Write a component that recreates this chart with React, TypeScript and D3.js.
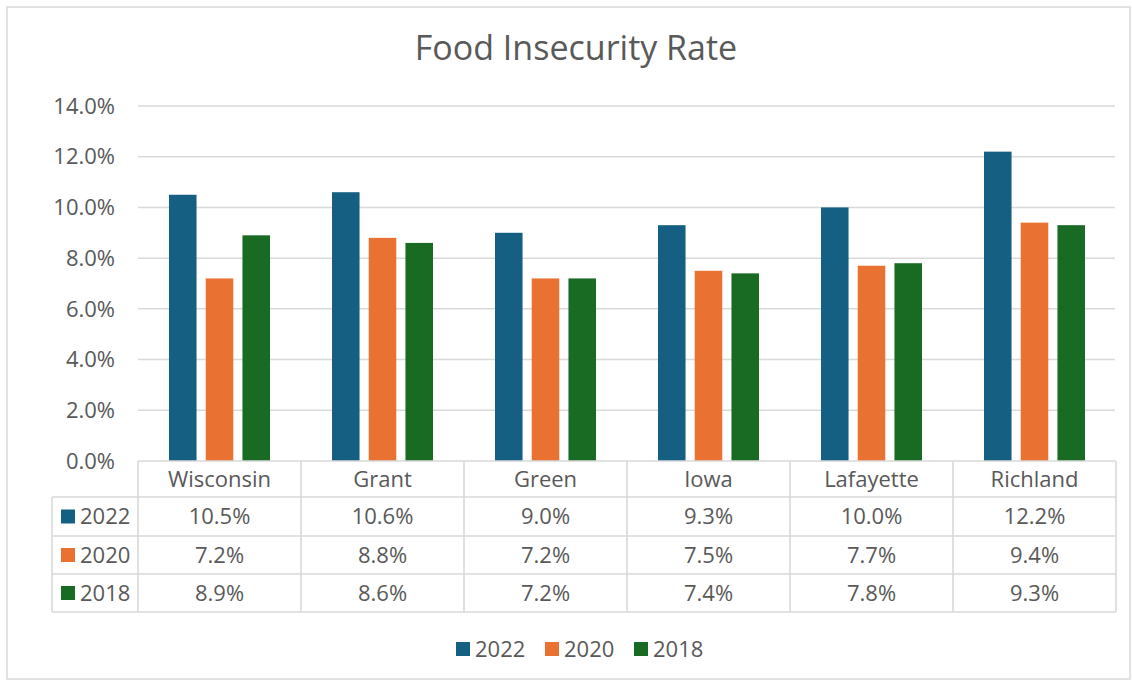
import React from "react";
import * as d3 from "d3";

const categories = ["Wisconsin", "Grant", "Green", "Iowa", "Lafayette", "Richland"];
const seriesNames = ["2022", "2020", "2018"];
const values2022 = [10.5, 10.6, 9.0, 9.3, 10.0, 12.2];
const values2020 = [7.2, 8.8, 7.2, 7.5, 7.7, 9.4];
const values2018 = [8.9, 8.6, 7.2, 7.4, 7.8, 9.3];
const yTicks = [0, 2, 4, 6, 8, 10, 12, 14];
const colors = ["#156082", "#E97132", "#196B24"];

const seriesValues = [values2022, values2020, values2018];

const W = 1132;
const H = 681;
const FONT = "'Open Sans', sans-serif";
const TEXT = "#595959";
const GRID = "#D9D9D9";
const FS = 22;

export default function App() {
  const plotLeft = 138;
  const plotRight = 1116;
  const y = d3.scaleLinear().domain([0, 14]).range([461, 106]);
  const x0 = d3.scaleBand<string>().domain(categories).range([plotLeft, plotRight]).padding(0);
  const cw = x0.bandwidth();
  const x1 = d3
    .scaleBand<string>()
    .domain(seriesNames)
    .range([31, cw - 31])
    .paddingInner(0.25)
    .paddingOuter(0);

  const rowEdges = [461, 497, 536, 574, 612];
  const labelLeft = 52;

  return (
    <svg
      width={W}
      height={H}
      style={{ position: "absolute", left: 0, top: 0, background: "#fff" }}
      fontFamily={FONT}
    >
      <rect x={7} y={7} width={1123} height={672} fill="#fff" stroke={GRID} strokeWidth={1.5} />
      <text x={576} y={60} textAnchor="middle" fontSize={34} fill={TEXT}>
        Food Insecurity Rate
      </text>

      {yTicks.map((t) => (
        <g key={t}>
          {t > 0 && (
            <line x1={plotLeft} x2={plotRight - 1} y1={y(t)} y2={y(t)} stroke={GRID} strokeWidth={1.5} />
          )}
          <text x={115} y={y(t)} dy="0.35em" textAnchor="end" fontSize={FS} fill={TEXT}>
            {d3.format(".1f")(t) + "%"}
          </text>
        </g>
      ))}

      {categories.map((c, i) => (
        <g key={c} transform={`translate(${x0(c)},0)`}>
          {seriesNames.map((s, j) => (
            <rect
              key={s}
              x={x1(s)}
              y={y(seriesValues[j][i])}
              width={x1.bandwidth()}
              height={y(0) - y(seriesValues[j][i])}
              fill={colors[j]}
            />
          ))}
        </g>
      ))}

      {/* data table */}
      <g stroke={GRID} strokeWidth={1.6}>
        <line x1={plotLeft} x2={plotRight} y1={rowEdges[0]} y2={rowEdges[0]} />
        {rowEdges.slice(1).map((r) => (
          <line key={r} x1={labelLeft} x2={plotRight} y1={r} y2={r} />
        ))}
        <line x1={labelLeft} x2={labelLeft} y1={rowEdges[1]} y2={rowEdges[4]} />
        {categories.map((c) => (
          <line key={c} x1={x0(c)} x2={x0(c)} y1={rowEdges[0]} y2={rowEdges[4]} />
        ))}
        <line x1={plotRight} x2={plotRight} y1={rowEdges[0]} y2={rowEdges[4]} />
      </g>
      {categories.map((c) => (
        <text
          key={c}
          x={(x0(c) as number) + cw / 2}
          y={(rowEdges[0] + rowEdges[1]) / 2}
          dy="0.35em"
          textAnchor="middle"
          fontSize={FS}
          fill={TEXT}
        >
          {c}
        </text>
      ))}
      {seriesNames.map((s, j) => {
        const cy = (rowEdges[j + 1] + rowEdges[j + 2]) / 2;
        return (
          <g key={s}>
            <rect x={61} y={cy - 7} width={14} height={14} fill={colors[j]} />
            <text x={80} y={cy} dy="0.35em" fontSize={FS} fill={TEXT}>
              {s}
            </text>
            {categories.map((c, i) => (
              <text
                key={c}
                x={(x0(c) as number) + cw / 2}
                y={cy}
                dy="0.35em"
                textAnchor="middle"
                fontSize={FS}
                fill={TEXT}
              >
                {d3.format(".1f")(seriesValues[j][i]) + "%"}
              </text>
            ))}
          </g>
        );
      })}

      {/* legend */}
      {seriesNames.map((s, j) => {
        const lx = [456, 545, 634][j];
        return (
          <g key={s}>
            <rect x={lx} y={642} width={14} height={14} fill={colors[j]} />
            <text x={lx + 19} y={649} dy="0.35em" fontSize={FS} fill={TEXT}>
              {s}
            </text>
          </g>
        );
      })}
    </svg>
  );
}
